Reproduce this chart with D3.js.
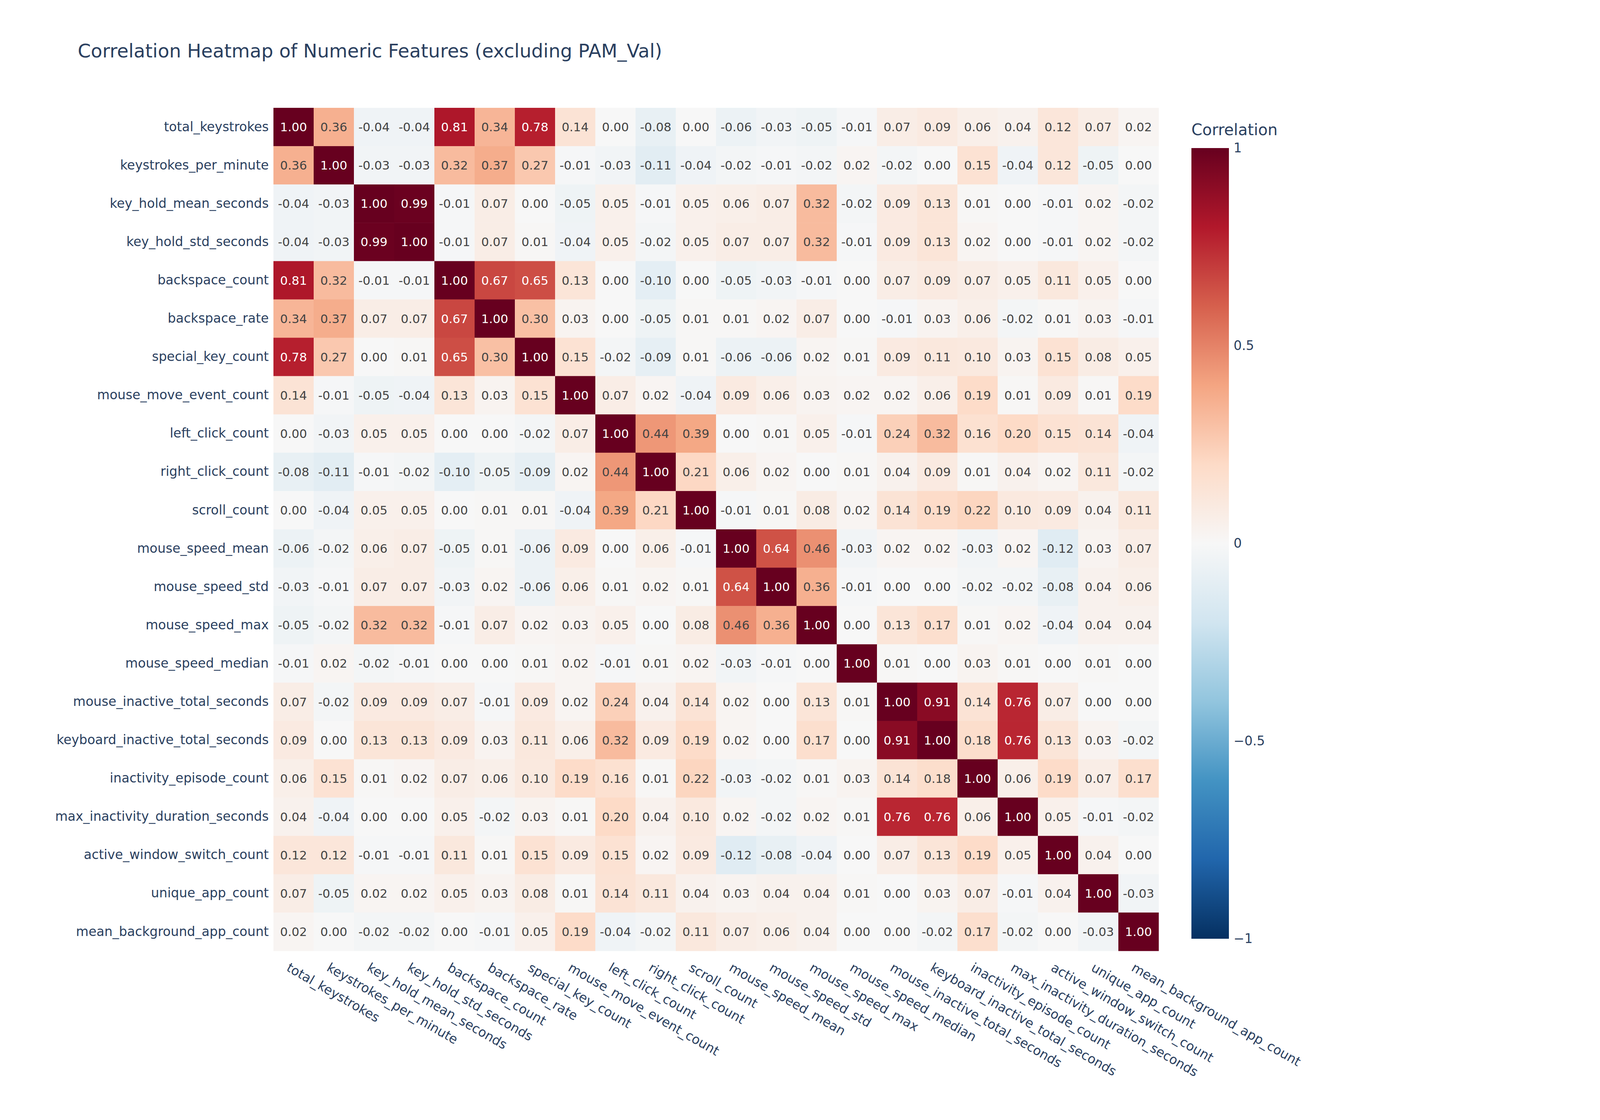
<!DOCTYPE html>
<html>
<head>
<meta charset="utf-8">
<script src="https://cdn.jsdelivr.net/npm/d3@7"></script>
<style>
  body { margin: 0; background: #fff; }
  text { font-family: "DejaVu Sans", Verdana, sans-serif; }
</style>
</head>
<body>
<svg id="chart" width="6000" height="2867"></svg>
<script>
// features (same order on both axes)
const features = ["total_keystrokes", "keystrokes_per_minute", "key_hold_mean_seconds", "key_hold_std_seconds",
  "backspace_count", "backspace_rate", "special_key_count", "mouse_move_event_count", "left_click_count",
  "right_click_count", "scroll_count", "mouse_speed_mean", "mouse_speed_std", "mouse_speed_max",
  "mouse_speed_median", "mouse_inactive_total_seconds", "keyboard_inactive_total_seconds",
  "inactivity_episode_count", "max_inactivity_duration_seconds", "active_window_switch_count",
  "unique_app_count", "mean_background_app_count"];

// correlation matrix, one row per feature
const corr = [
  [1.00,0.36,-0.04,-0.04,0.81,0.34,0.78,0.14,0.00,-0.08,0.00,-0.06,-0.03,-0.05,-0.01,0.07,0.09,0.06,0.04,0.12,0.07,0.02],
  [0.36,1.00,-0.03,-0.03,0.32,0.37,0.27,-0.01,-0.03,-0.11,-0.04,-0.02,-0.01,-0.02,0.02,-0.02,0.00,0.15,-0.04,0.12,-0.05,0.00],
  [-0.04,-0.03,1.00,0.99,-0.01,0.07,0.00,-0.05,0.05,-0.01,0.05,0.06,0.07,0.32,-0.02,0.09,0.13,0.01,0.00,-0.01,0.02,-0.02],
  [-0.04,-0.03,0.99,1.00,-0.01,0.07,0.01,-0.04,0.05,-0.02,0.05,0.07,0.07,0.32,-0.01,0.09,0.13,0.02,0.00,-0.01,0.02,-0.02],
  [0.81,0.32,-0.01,-0.01,1.00,0.67,0.65,0.13,0.00,-0.10,0.00,-0.05,-0.03,-0.01,0.00,0.07,0.09,0.07,0.05,0.11,0.05,0.00],
  [0.34,0.37,0.07,0.07,0.67,1.00,0.30,0.03,0.00,-0.05,0.01,0.01,0.02,0.07,0.00,-0.01,0.03,0.06,-0.02,0.01,0.03,-0.01],
  [0.78,0.27,0.00,0.01,0.65,0.30,1.00,0.15,-0.02,-0.09,0.01,-0.06,-0.06,0.02,0.01,0.09,0.11,0.10,0.03,0.15,0.08,0.05],
  [0.14,-0.01,-0.05,-0.04,0.13,0.03,0.15,1.00,0.07,0.02,-0.04,0.09,0.06,0.03,0.02,0.02,0.06,0.19,0.01,0.09,0.01,0.19],
  [0.00,-0.03,0.05,0.05,0.00,0.00,-0.02,0.07,1.00,0.44,0.39,0.00,0.01,0.05,-0.01,0.24,0.32,0.16,0.20,0.15,0.14,-0.04],
  [-0.08,-0.11,-0.01,-0.02,-0.10,-0.05,-0.09,0.02,0.44,1.00,0.21,0.06,0.02,0.00,0.01,0.04,0.09,0.01,0.04,0.02,0.11,-0.02],
  [0.00,-0.04,0.05,0.05,0.00,0.01,0.01,-0.04,0.39,0.21,1.00,-0.01,0.01,0.08,0.02,0.14,0.19,0.22,0.10,0.09,0.04,0.11],
  [-0.06,-0.02,0.06,0.07,-0.05,0.01,-0.06,0.09,0.00,0.06,-0.01,1.00,0.64,0.46,-0.03,0.02,0.02,-0.03,0.02,-0.12,0.03,0.07],
  [-0.03,-0.01,0.07,0.07,-0.03,0.02,-0.06,0.06,0.01,0.02,0.01,0.64,1.00,0.36,-0.01,0.00,0.00,-0.02,-0.02,-0.08,0.04,0.06],
  [-0.05,-0.02,0.32,0.32,-0.01,0.07,0.02,0.03,0.05,0.00,0.08,0.46,0.36,1.00,0.00,0.13,0.17,0.01,0.02,-0.04,0.04,0.04],
  [-0.01,0.02,-0.02,-0.01,0.00,0.00,0.01,0.02,-0.01,0.01,0.02,-0.03,-0.01,0.00,1.00,0.01,0.00,0.03,0.01,0.00,0.01,0.00],
  [0.07,-0.02,0.09,0.09,0.07,-0.01,0.09,0.02,0.24,0.04,0.14,0.02,0.00,0.13,0.01,1.00,0.91,0.14,0.76,0.07,0.00,0.00],
  [0.09,0.00,0.13,0.13,0.09,0.03,0.11,0.06,0.32,0.09,0.19,0.02,0.00,0.17,0.00,0.91,1.00,0.18,0.76,0.13,0.03,-0.02],
  [0.06,0.15,0.01,0.02,0.07,0.06,0.10,0.19,0.16,0.01,0.22,-0.03,-0.02,0.01,0.03,0.14,0.18,1.00,0.06,0.19,0.07,0.17],
  [0.04,-0.04,0.00,0.00,0.05,-0.02,0.03,0.01,0.20,0.04,0.10,0.02,-0.02,0.02,0.01,0.76,0.76,0.06,1.00,0.05,-0.01,-0.02],
  [0.12,0.12,-0.01,-0.01,0.11,0.01,0.15,0.09,0.15,0.02,0.09,-0.12,-0.08,-0.04,0.00,0.07,0.13,0.19,0.05,1.00,0.04,0.00],
  [0.07,-0.05,0.02,0.02,0.05,0.03,0.08,0.01,0.14,0.11,0.04,0.03,0.04,0.04,0.01,0.00,0.03,0.07,-0.01,0.04,1.00,-0.03],
  [0.02,0.00,-0.02,-0.02,0.00,-0.01,0.05,0.19,-0.04,-0.02,0.11,0.07,0.06,0.04,0.00,0.00,-0.02,0.17,-0.02,0.00,-0.03,1.00]
];

const colorbarTicks = [1, 0.5, 0, -0.5, -1];

// plotly RdBu (reversed so red = positive)
const rdbu = ["rgb(5,48,97)", "rgb(33,102,172)", "rgb(67,147,195)", "rgb(146,197,222)", "rgb(209,229,240)",
  "rgb(247,247,247)", "rgb(253,219,199)", "rgb(244,165,130)", "rgb(214,96,77)", "rgb(178,24,43)", "rgb(103,0,31)"];

const svg = d3.select("#chart");
const plot = { left: 700, top: 276, width: 2266, height: 2158 };
const textColor = "#2a3f5f";

const color = d3.scaleLinear()
  .domain(d3.range(rdbu.length).map(i => -1 + 2 * i / (rdbu.length - 1)))
  .range(rdbu)
  .interpolate(d3.interpolateRgb);

const x = d3.scaleBand().domain(features).range([plot.left, plot.left + plot.width]);
const y = d3.scaleBand().domain(features).range([plot.top, plot.top + plot.height]);

// title
svg.append("text")
  .attr("x", 199).attr("y", 147)
  .attr("font-size", 48).attr("fill", textColor)
  .text("Correlation Heatmap of Numeric Features (excluding PAM_Val)");

// cells
const cells = [];
corr.forEach((row, i) => row.forEach((v, j) => cells.push({ r: features[i], c: features[j], v })));

const g = svg.append("g");
g.selectAll("rect").data(cells).enter().append("rect")
  .attr("x", d => x(d.c)).attr("y", d => y(d.r))
  .attr("width", x.bandwidth() + 0.5).attr("height", y.bandwidth() + 0.5)
  .attr("fill", d => color(d.v));

g.selectAll("text").data(cells).enter().append("text")
  .attr("x", d => x(d.c) + x.bandwidth() / 2)
  .attr("y", d => y(d.r) + y.bandwidth() / 2)
  .attr("dy", "0.36em")
  .attr("text-anchor", "middle")
  .attr("font-size", 31)
  .attr("fill", d => Math.abs(d.v) > 0.55 ? "#fff" : "#444")
  .text(d => d.v.toFixed(2));

// y axis
const yAxis = svg.append("g")
  .attr("transform", `translate(${plot.left},0)`)
  .call(d3.axisLeft(y).tickSize(0).tickPadding(12));
yAxis.select(".domain").remove();
yAxis.selectAll("text").attr("font-size", 33).attr("fill", textColor)
  .style("font-family", "DejaVu Sans, sans-serif");

// x axis, rotated labels
const xAxis = svg.append("g")
  .attr("transform", `translate(0,${plot.top + plot.height})`)
  .call(d3.axisBottom(x).tickSize(0).tickPadding(0));
xAxis.select(".domain").remove();
xAxis.selectAll("text")
  .attr("font-size", 33).attr("fill", textColor)
  .style("font-family", "DejaVu Sans, sans-serif")
  .attr("text-anchor", "start")
  .attr("dy", "0.75em")
  .attr("transform", "translate(-8,28) rotate(30)");

// colorbar
const cb = { x: 3050, y0: 379, y1: 2403, w: 96 };
const cbScale = d3.scaleLinear().domain([1, -1]).range([cb.y0, cb.y1]);
const defs = svg.append("defs");
const grad = defs.append("linearGradient").attr("id", "cbgrad")
  .attr("x1", 0).attr("y1", 1).attr("x2", 0).attr("y2", 0);
rdbu.forEach((c, i) => grad.append("stop").attr("offset", i / (rdbu.length - 1)).attr("stop-color", c));
svg.append("rect")
  .attr("x", cb.x).attr("y", cb.y0).attr("width", cb.w).attr("height", cb.y1 - cb.y0)
  .attr("fill", "url(#cbgrad)");

const cbAxis = svg.append("g")
  .attr("transform", `translate(${cb.x + cb.w},0)`)
  .call(d3.axisRight(cbScale).tickValues(colorbarTicks).tickSize(0).tickPadding(12)
    .tickFormat(d => d === 0 ? "0" : d3.format("")(d).replace("-", "\u2212")));
cbAxis.select(".domain").remove();
cbAxis.selectAll("text").attr("font-size", 33).attr("fill", textColor)
  .style("font-family", "DejaVu Sans, sans-serif");

svg.append("text")
  .attr("x", cb.x).attr("y", 346)
  .attr("font-size", 40).attr("fill", textColor)
  .text("Correlation");
</script>
</body>
</html>
